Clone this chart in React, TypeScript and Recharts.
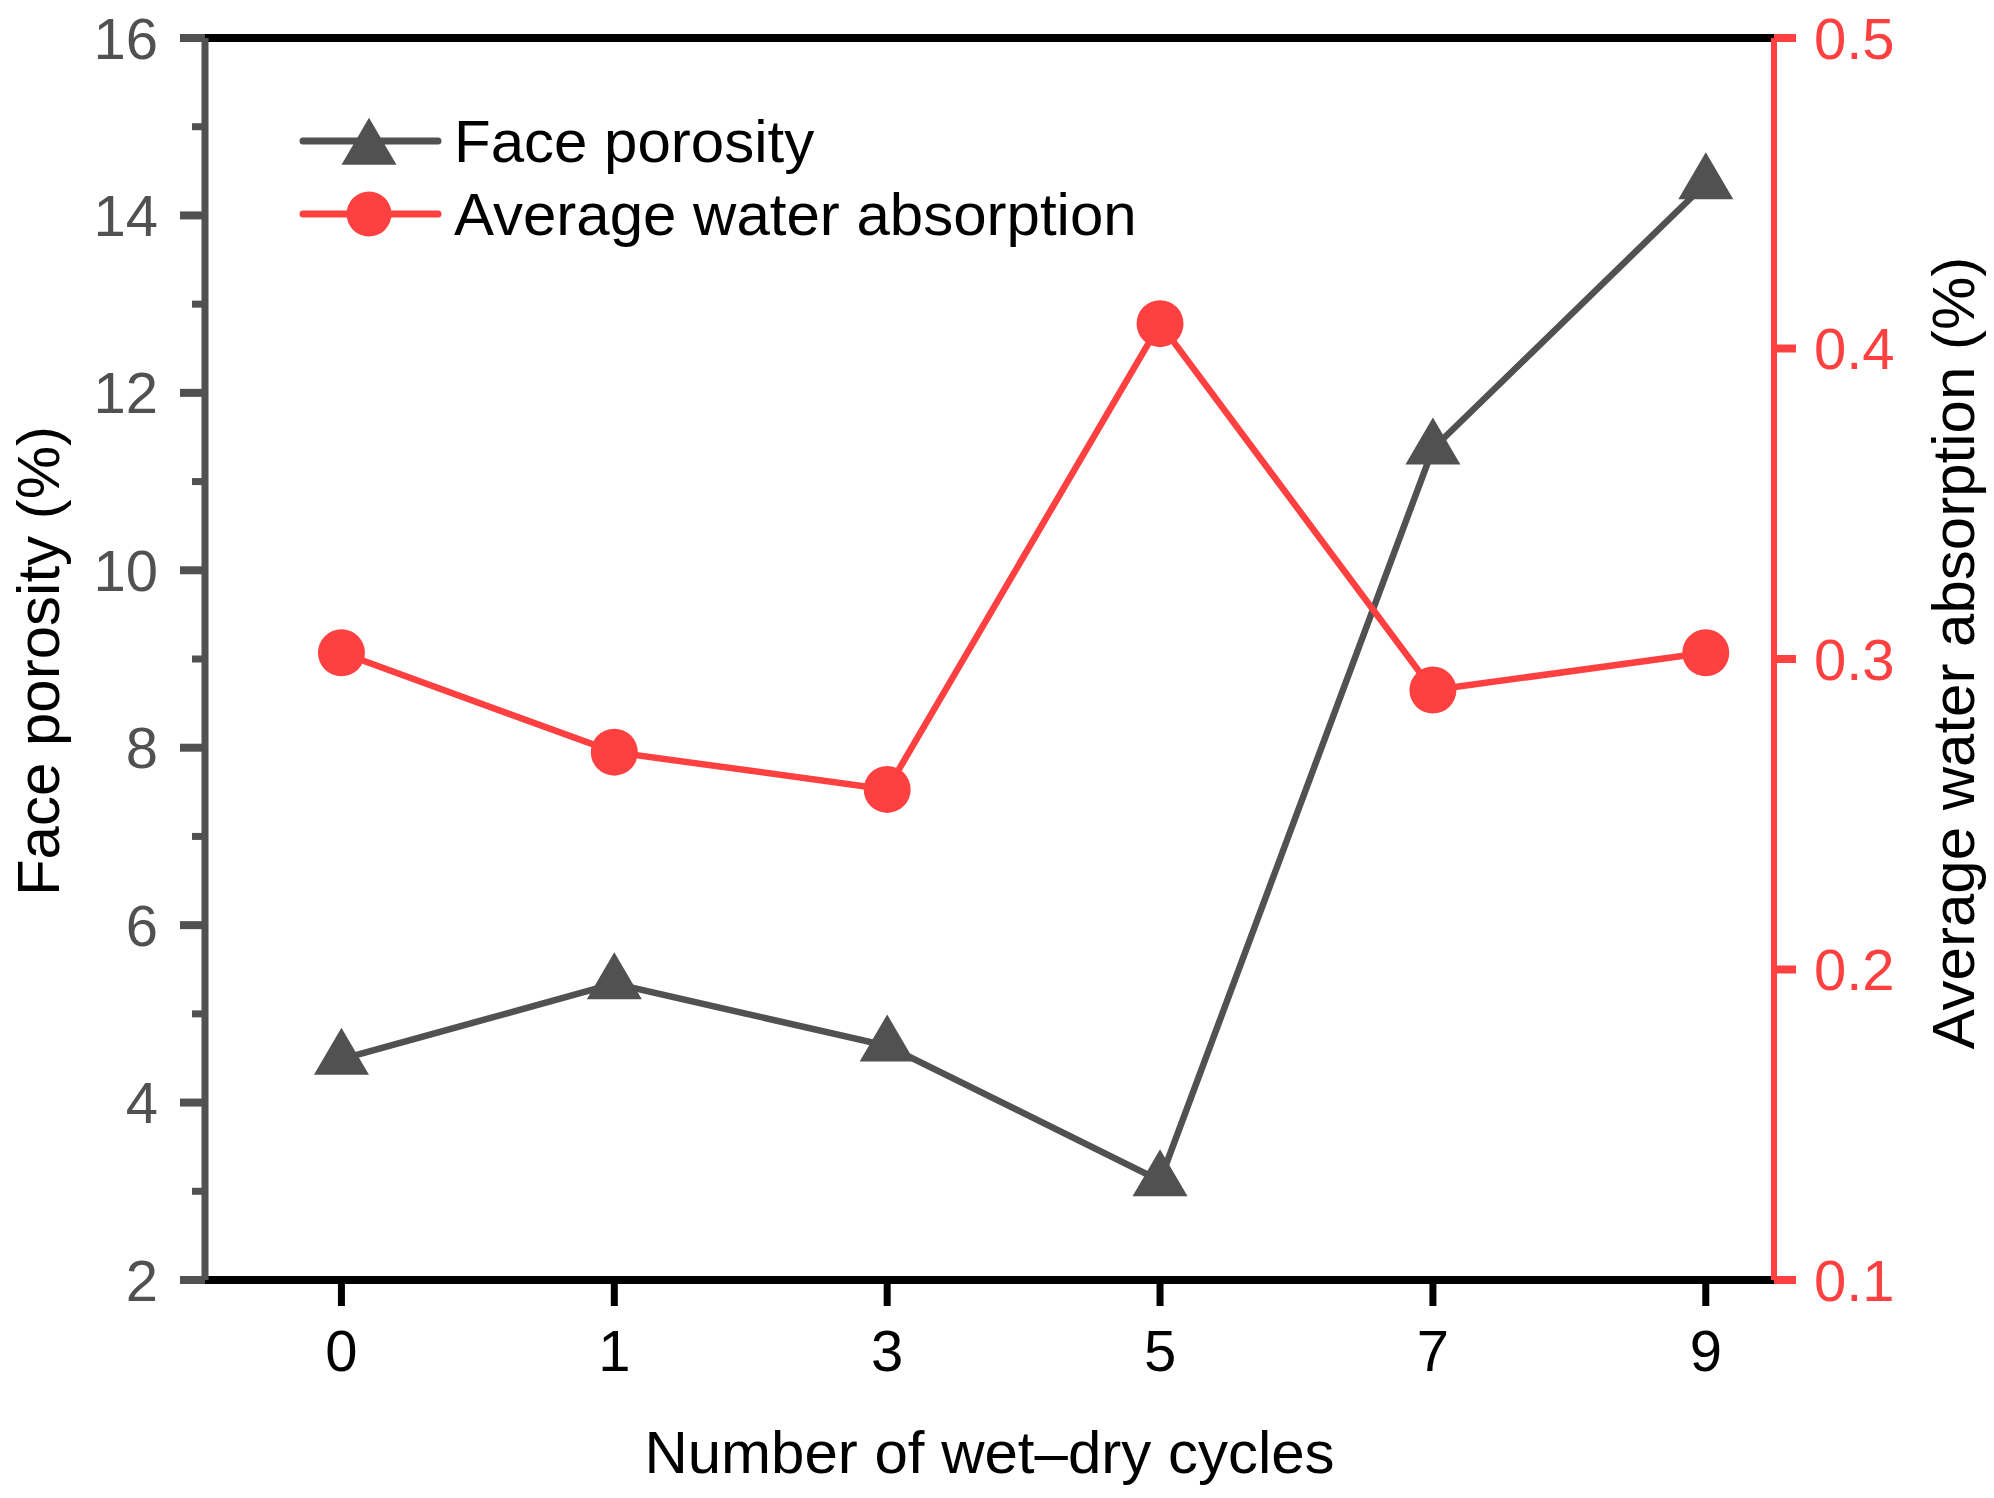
import React from 'react';
import { LineChart, Line, XAxis, YAxis, ReferenceLine, Legend } from 'recharts';

// ---- data ----
const cycles = ['0', '1', '3', '5', '7', '9'];
const facePorosity = [4.49, 5.34, 4.64, 3.12, 11.37, 14.36];
const waterAbsorption = [0.302, 0.27, 0.258, 0.408, 0.29, 0.302];
const leftTicks = [2, 3, 4, 5, 6, 7, 8, 9, 10, 11, 12, 13, 14, 15, 16];
const rightTicks = [0.1, 0.2, 0.3, 0.4, 0.5];
const xTicks = [0, 1, 2, 3, 4, 5];
const seriesNames = ['Face porosity', 'Average water absorption'];

const data = cycles.map((c, i) => ({
  idx: i,
  cycle: c,
  porosity: facePorosity[i],
  water: waterAbsorption[i],
}));

// ---- style ----
const GRAY = '#515151';
const RED = '#FF4040';
const FONT = '"Liberation Sans", Arial, sans-serif';
const W = 1978;
const H = 1482;

const TRI_H = 47;
const TRI_W = 55;

const trianglePoints = (cx: number, cy: number) =>
  `${cx},${cy - (2 * TRI_H) / 3} ${cx - TRI_W / 2},${cy + TRI_H / 3} ${cx + TRI_W / 2},${cy + TRI_H / 3}`;

const renderTriangle = (p: any) => {
  if (p == null || p.cx == null || p.cy == null) return <g key={`t-${p?.index}`} />;
  return <polygon key={`t-${p.index}`} points={trianglePoints(p.cx, p.cy)} fill={GRAY} stroke="none" />;
};

const LeftTick = (props: any) => {
  const { x, y, payload } = props;
  const axisX = x + 22 + 25;
  const v = payload.value;
  const major = v % 2 === 0;
  return (
    <g>
      <line
        x1={axisX - (major ? 25 : 13)}
        x2={axisX}
        y1={y}
        y2={y}
        stroke={GRAY}
        strokeWidth={major ? 8 : 7}
      />
      {major && (
        <text
          x={axisX - 47}
          y={y}
          dy="0.355em"
          textAnchor="end"
          fill={GRAY}
          fontSize={58}
          fontFamily={FONT}
        >
          {v}
        </text>
      )}
    </g>
  );
};

const renderLegend = (props: any) => {
  const payload = (props.payload || []).slice();
  const order = ['porosity', 'water'];
  payload.sort((a: any, b: any) => {
    const ka = a.dataKey ?? a.payload?.dataKey;
    const kb = b.dataKey ?? b.payload?.dataKey;
    return order.indexOf(ka) - order.indexOf(kb);
  });
  return (
    <svg width={1000} height={300} style={{ display: 'block', overflow: 'visible' }}>
      {payload.map((entry: any, i: number) => {
        const key = entry.dataKey ?? entry.payload?.dataKey;
        const y = 133 + i * 73;
        const color = key === 'porosity' ? GRAY : RED;
        return (
          <g key={`lg-${i}`}>
            <line x1={295} x2={430} y1={y} y2={y} stroke={color} strokeWidth={7} strokeLinecap="round" />
            {key === 'porosity' ? (
              <polygon points={trianglePoints(361, y + 8)} fill={GRAY} />
            ) : (
              <circle cx={361} cy={y} r={22.5} fill={RED} />
            )}
            <text x={446} y={y} dy="0.355em" fontSize={60} fontFamily={FONT} fill="#000">
              {entry.value}
            </text>
          </g>
        );
      })}
    </svg>
  );
};

export default function App() {
  return (
    <div style={{ width: W, height: H }}>
      <LineChart
        width={W}
        height={H}
        data={data}
        margin={{ top: 30, right: 0, bottom: 0, left: 0 }}
      >
        <XAxis
          dataKey="idx"
          type="number"
          domain={[-0.5, 5.25]}
          allowDataOverflow
          ticks={xTicks}
          interval={0}
          tickFormatter={(v: number) => cycles[v]}
          height={210}
          axisLine={{ stroke: '#000', strokeWidth: 8 }}
          tickLine={{ stroke: '#000', strokeWidth: 7 }}
          tickSize={26}
          tickMargin={24}
          tick={{ fill: '#000', fontSize: 58, fontFamily: FONT }}
          label={{
            content: (p: any) => {
              const vb = p.viewBox || {};
              return (
                <text
                  x={vb.x + vb.width / 2}
                  y={vb.y + 193}
                  textAnchor="middle"
                  fontSize={60}
                  fontFamily={FONT}
                  fill="#000"
                >
                  Number of wet–dry cycles
                </text>
              );
            },
          }}
        />
        <YAxis
          yAxisId="left"
          orientation="left"
          width={197}
          domain={[2, 16]}
          ticks={leftTicks}
          interval={0}
          allowDataOverflow
          axisLine={{ stroke: GRAY, strokeWidth: 7 }}
          tickLine={false}
          tickSize={22}
          tickMargin={25}
          tick={<LeftTick />}
          label={{
            content: (p: any) => {
              const vb = p.viewBox || {};
              const cx = vb.x + 30;
              const cy = vb.y + vb.height / 2 + 2;
              return (
                <text
                  x={cx}
                  y={cy}
                  dy="0.355em"
                  textAnchor="middle"
                  transform={`rotate(-90 ${cx} ${cy})`}
                  fontSize={60}
                  fontFamily={FONT}
                  fill="#000"
                >
                  Face porosity (%)
                </text>
              );
            },
          }}
        />
        <YAxis
          yAxisId="right"
          orientation="right"
          width={212}
          domain={[0.1, 0.5]}
          ticks={rightTicks}
          interval={0}
          allowDataOverflow
          tickFormatter={(v: number) => v.toFixed(1)}
          axisLine={{ stroke: RED, strokeWidth: 6 }}
          tickLine={{ stroke: RED, strokeWidth: 8 }}
          tickSize={22}
          tickMargin={18}
          tick={{ fill: RED, fontSize: 58, fontFamily: FONT }}
          label={{
            content: (p: any) => {
              const vb = p.viewBox || {};
              const cx = vb.x + 179;
              const cy = vb.y + vb.height / 2 - 6;
              return (
                <text
                  x={cx}
                  y={cy}
                  dy="0.355em"
                  textAnchor="middle"
                  transform={`rotate(-90 ${cx} ${cy})`}
                  fontSize={60}
                  fontFamily={FONT}
                  fill="#000"
                >
                  Average water absorption (%)
                </text>
              );
            },
          }}
        />
        <ReferenceLine yAxisId="left" y={16} stroke="#000" strokeWidth={8} />
        <Legend
          layout="horizontal"
          verticalAlign="middle"
          align="center"
          content={renderLegend}
          wrapperStyle={{ position: 'absolute', left: 0, top: 0, width: 1000, height: 300 }}
        />
        <Line
          yAxisId="left"
          dataKey="porosity"
          name={seriesNames[0]}
          stroke={GRAY}
          strokeWidth={6.5}
          dot={renderTriangle}
          activeDot={false}
          isAnimationActive={false}
        />
        <Line
          yAxisId="right"
          dataKey="water"
          name={seriesNames[1]}
          stroke={RED}
          strokeWidth={6.5}
          dot={{ r: 23.5, fill: RED, stroke: 'none' }}
          activeDot={false}
          isAnimationActive={false}
        />
      </LineChart>
    </div>
  );
}
